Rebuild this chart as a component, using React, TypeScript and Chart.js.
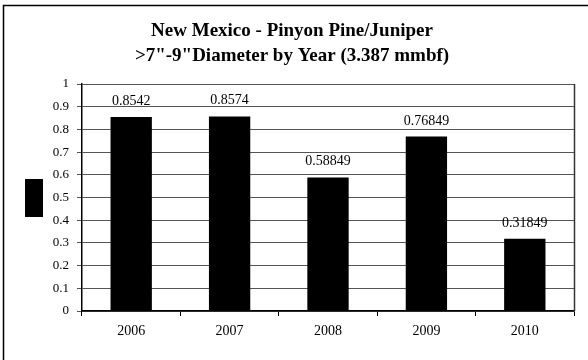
import React, { useEffect, useRef } from "react";
import { Chart, registerables } from "chart.js";

Chart.register(...registerables);

const categories = ["2006", "2007", "2008", "2009", "2010"];
const values = [0.8542, 0.8574, 0.58849, 0.76849, 0.31849];
const titleLines = ["New Mexico - Pinyon Pine/Juniper", '>7"-9"Diameter by Year (3.387 mmbf)'];

const SERIF = "'Liberation Serif', 'Times New Roman', serif";

const framePlugin = {
  id: "frame",
  beforeDraw(chart: any) {
    const ctx = chart.ctx;
    ctx.save();
    ctx.fillStyle = "#ffffff";
    ctx.fillRect(0, 0, chart.width, chart.height);
    ctx.strokeStyle = "#000000";
    ctx.lineWidth = 1.5;
    ctx.strokeRect(3.5, 5.5, chart.width + 10, chart.height + 10);
    ctx.restore();
  },
  afterDraw(chart: any) {
    const { ctx, chartArea } = chart;
    ctx.save();
    ctx.strokeStyle = "#333333";
    ctx.lineWidth = 1.5;
    ctx.beginPath();
    ctx.moveTo(Math.round(chartArea.right) + 0.5, chartArea.top);
    ctx.lineTo(Math.round(chartArea.right) + 0.5, chartArea.bottom);
    ctx.stroke();
    // legend key (series has no visible name)
    const cy = (chartArea.top + chartArea.bottom) / 2;
    ctx.fillStyle = "#000000";
    ctx.fillRect(25, Math.round(cy - 19), 18, 38);
    ctx.restore();
  },
};

const labelPlugin = {
  id: "valueLabels",
  afterDatasetsDraw(chart: any) {
    const ctx = chart.ctx;
    const meta = chart.getDatasetMeta(0);
    ctx.save();
    ctx.font = `14px ${SERIF}`;
    ctx.fillStyle = "#000000";
    ctx.textAlign = "center";
    ctx.textBaseline = "alphabetic";
    meta.data.forEach((el: any, i: number) => {
      ctx.fillText(String(values[i]), el.x, el.y - 12);
    });
    ctx.restore();
  },
};

export default function App() {
  const ref = useRef<HTMLCanvasElement | null>(null);
  useEffect(() => {
    document.body.style.margin = "0";
    const chart = new Chart(ref.current as HTMLCanvasElement, {
      type: "bar",
      data: {
        labels: categories,
        datasets: [
          {
            label: "",
            data: values,
            backgroundColor: "#000000",
            borderWidth: 0,
            barPercentage: 0.42,
            categoryPercentage: 1,
          },
        ],
      },
      options: {
        animation: false,
        responsive: false,
        maintainAspectRatio: false,
        layout: { padding: { top: 5, right: 14, bottom: 19, left: 10 } },
        plugins: {
          title: {
            display: true,
            text: titleLines,
            color: "#000000",
            font: { family: SERIF, size: 19, weight: "bold", lineHeight: 1.316 },
            padding: { top: 13.5, bottom: 15.5 },
          },
          legend: { display: false },
          tooltip: { enabled: false },
        },
        scales: {
          x: {
            offset: true,
            afterFit: (s: any) => {
              s.height = 30;
            },
            grid: {
              display: true,
              offset: true,
              drawOnChartArea: false,
              drawTicks: true,
              tickLength: 5,
              color: "#000000",
            },
            border: { display: true, color: "#000000", width: 1.5 },
            ticks: {
              color: "#000000",
              font: { family: SERIF, size: 14 },
              padding: 7,
            },
          },
          y: {
            min: 0,
            max: 1,
            afterFit: (s: any) => {
              s.width = 72;
            },
            grid: {
              color: "#555555",
              drawTicks: true,
              tickLength: 5,
            },
            border: { display: true, color: "#000000", width: 1.5 },
            ticks: {
              stepSize: 0.1,
              color: "#000000",
              font: { family: SERIF, size: 13 },
              padding: 8,
              callback: (v: any) => String(Math.round(Number(v) * 10) / 10),
            },
          },
        },
      },
      plugins: [framePlugin, labelPlugin],
    });
    return () => chart.destroy();
  }, []);
  return (
    <div style={{ width: 588, height: 360 }}>
      <canvas ref={ref} width={588} height={360} style={{ display: "block" }} />
    </div>
  );
}
